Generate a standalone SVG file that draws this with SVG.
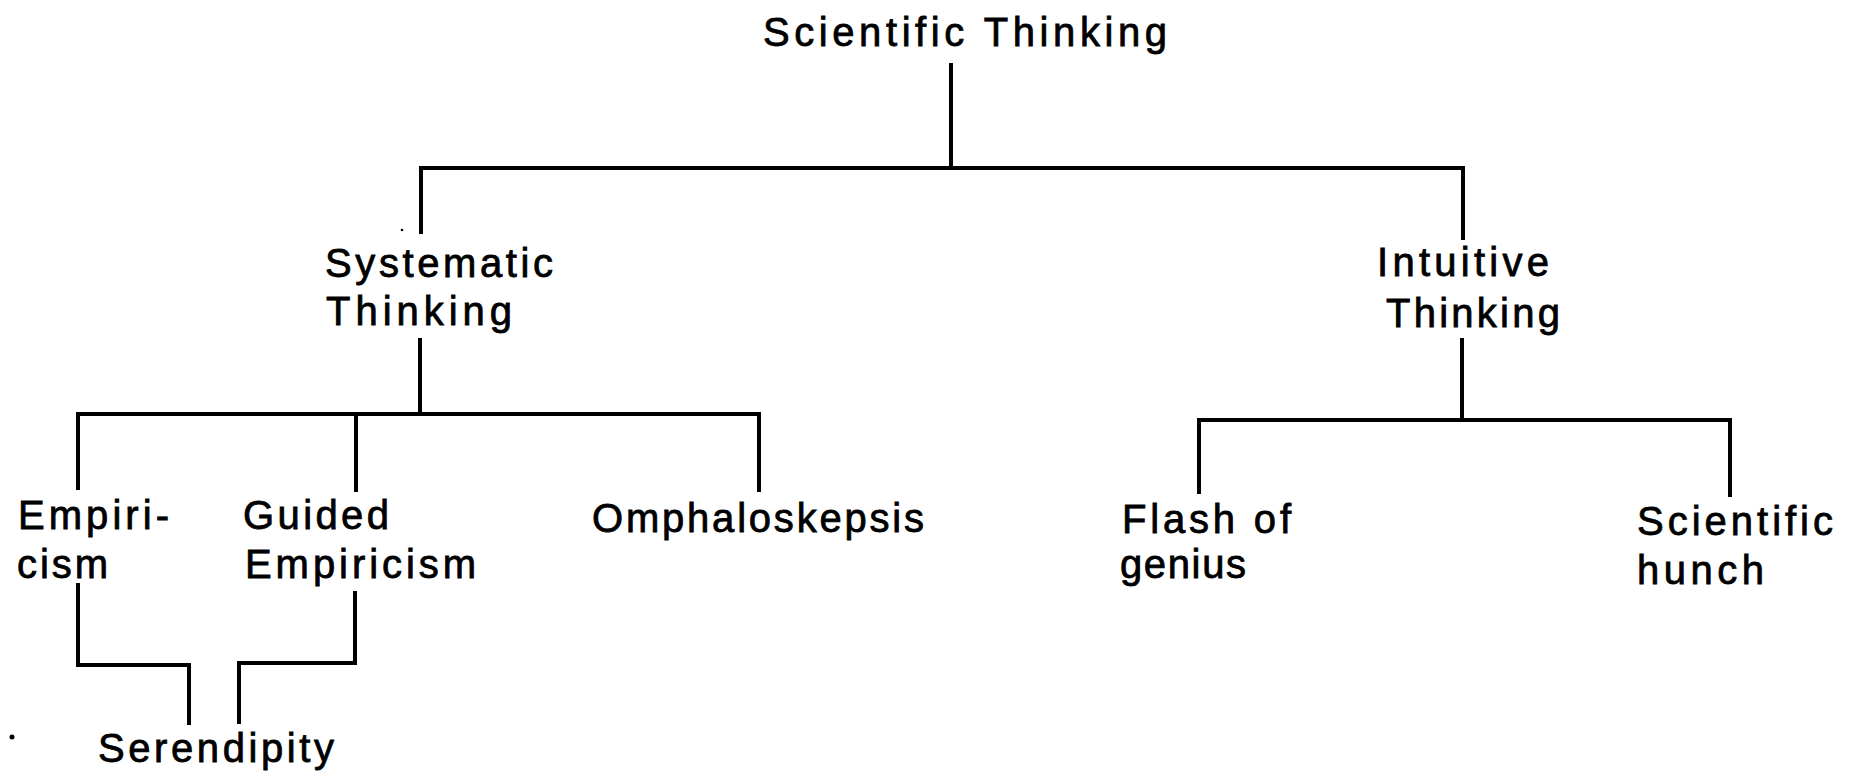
<svg xmlns="http://www.w3.org/2000/svg" width="1858" height="777" viewBox="0 0 1858 777">
  <style>
    .bg { fill: #ffffff; }
    .label { font-family: "Liberation Sans", Arial, sans-serif; font-size: 40px; fill: #000000; stroke: #000000; stroke-width: 0.8; }
    .link { fill: none; stroke: #000000; stroke-width: 4; stroke-linecap: square; stroke-linejoin: miter; }
    .speck { fill: #000000; }
  </style>
  <rect class="bg" x="0" y="0" width="1858" height="777"/>

  <!-- tree connectors -->
  <g id="connectors">
    <!-- root to first level -->
    <path class="link" d="M951 65 V168"/>
    <path class="link" d="M421 232 V168 H1463 V238"/>
    <!-- systematic branch -->
    <path class="link" d="M420 340 V414"/>
    <path class="link" d="M78 488 V414 H759 V490"/>
    <path class="link" d="M356 414 V490"/>
    <!-- intuitive branch -->
    <path class="link" d="M1462 340 V420"/>
    <path class="link" d="M1199 492 V420 H1730 V495"/>
    <!-- both empiricisms lead to serendipity -->
    <path class="link" d="M78 585 V665 H189 V723"/>
    <path class="link" d="M355 593 V663 H239 V722"/>
  </g>

  <g id="node-scientific-thinking">
    <text class="label" x="763" y="46" textLength="404" lengthAdjust="spacing">Scientific Thinking</text>
  </g>
  <g id="node-systematic-thinking">
    <text class="label" x="325" y="277" textLength="228" lengthAdjust="spacing">Systematic</text>
    <text class="label" x="326" y="325" textLength="186" lengthAdjust="spacing">Thinking</text>
  </g>
  <g id="node-intuitive-thinking">
    <text class="label" x="1377" y="276" textLength="172" lengthAdjust="spacing">Intuitive</text>
    <text class="label" x="1386" y="327" textLength="174" lengthAdjust="spacing">Thinking</text>
  </g>
  <g id="node-empiricism">
    <text class="label" x="18" y="529" textLength="151" lengthAdjust="spacing">Empiri-</text>
    <text class="label" x="17" y="578" textLength="91" lengthAdjust="spacing">cism</text>
  </g>
  <g id="node-guided-empiricism">
    <text class="label" x="243" y="529" textLength="146" lengthAdjust="spacing">Guided</text>
    <text class="label" x="245" y="578" textLength="231" lengthAdjust="spacing">Empiricism</text>
  </g>
  <g id="node-omphaloskepsis">
    <text class="label" x="592" y="532" textLength="332" lengthAdjust="spacing">Omphaloskepsis</text>
  </g>
  <g id="node-flash-of-genius">
    <text class="label" x="1122" y="533" textLength="169" lengthAdjust="spacing">Flash of</text>
    <text class="label" x="1120" y="578" textLength="126" lengthAdjust="spacing">genius</text>
  </g>
  <g id="node-scientific-hunch">
    <text class="label" x="1637" y="535" textLength="196" lengthAdjust="spacing">Scientific</text>
    <text class="label" x="1637" y="584" textLength="127" lengthAdjust="spacing">hunch</text>
  </g>
  <g id="node-serendipity">
    <text class="label" x="98" y="762" textLength="236" lengthAdjust="spacing">Serendipity</text>
  </g>

  <!-- stray specks on the page -->
  <circle class="speck" cx="12" cy="737" r="2.5"/>
  <circle class="speck" cx="402" cy="230" r="1.3"/>
</svg>
